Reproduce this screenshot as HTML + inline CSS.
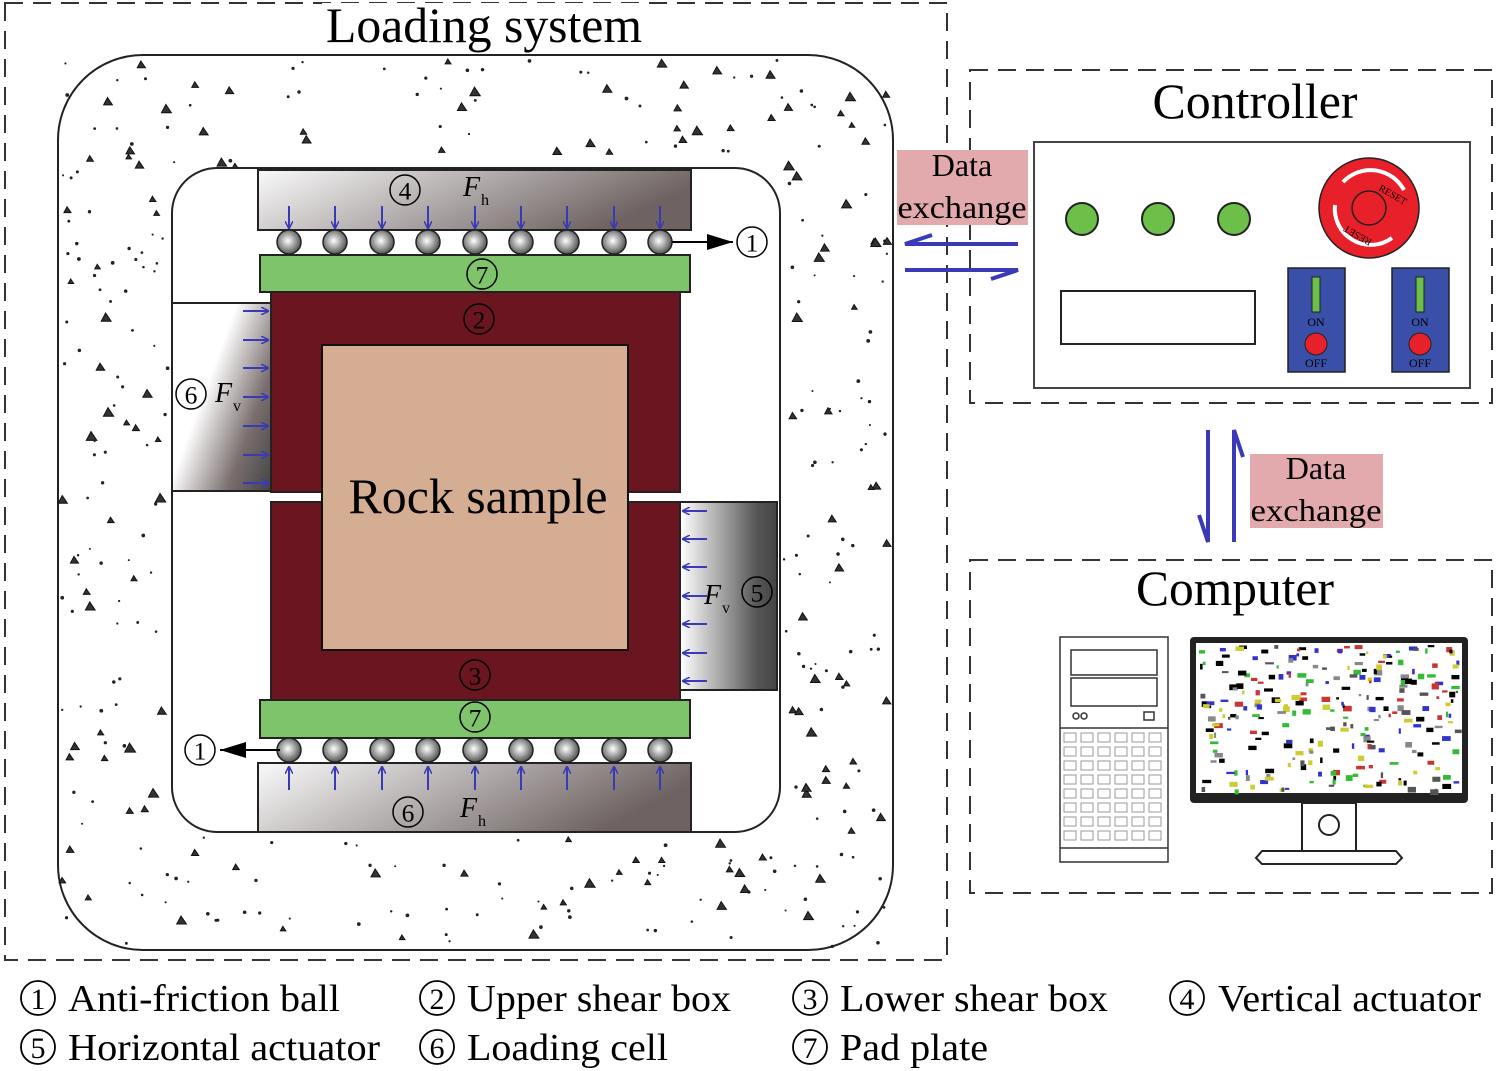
<!DOCTYPE html>
<html><head><meta charset="utf-8"><style>html,body{margin:0;padding:0;background:#fff}svg{display:block}text{font-family:"Liberation Serif",serif}</style></head><body>
<svg id="s" width="1499" height="1071" viewBox="0 0 1499 1071" xmlns="http://www.w3.org/2000/svg">
<defs>
<linearGradient id="gTop" x1="0" y1="0" x2="1" y2="0.3"><stop offset="0" stop-color="#fafafa"/><stop offset="1" stop-color="#6e6262"/></linearGradient>
<linearGradient id="gL" x1="0" y1="0.3" x2="1" y2="1"><stop offset="0.3" stop-color="#fff"/><stop offset="0.7" stop-color="#7a6e6e"/><stop offset="1" stop-color="#444"/></linearGradient>
<linearGradient id="gR" x1="0" y1="0" x2="1" y2="0"><stop offset="0" stop-color="#fff"/><stop offset="0.8" stop-color="#555"/><stop offset="1" stop-color="#444"/></linearGradient>
<radialGradient id="gB" cx="0.45" cy="0.45" r="0.6"><stop offset="0" stop-color="#fff"/><stop offset="1" stop-color="#444"/></radialGradient>
<marker id="bl" markerWidth="8" markerHeight="8" refX="7" refY="4" orient="auto" markerUnits="userSpaceOnUse"><path d="M0,0 L8,4 L0,8" fill="none" stroke="#3a3ab8" stroke-width="1.5"/></marker>
<marker id="bk" markerWidth="26" markerHeight="16" refX="26" refY="8" orient="auto" markerUnits="userSpaceOnUse"><path d="M0,0 L26,8 L0,16 z" fill="#000"/></marker>
</defs>
<rect x="5" y="3" width="942" height="957" fill="none" stroke="#333" stroke-width="2" stroke-dasharray="18,10"/>
<rect x="58" y="55" width="835" height="895" rx="85" fill="#fff" stroke="#222" stroke-width="2"/>
<g id="dots"></g>
<rect x="172" y="168" width="608" height="664" rx="45" fill="#fff" stroke="#222" stroke-width="2"/>
<rect x="322" y="3" width="324" height="46" fill="#fff"/>
<text x="484" y="42" font-size="50" text-anchor="middle" textLength="316" lengthAdjust="spacingAndGlyphs">Loading system</text>
<rect x="258" y="170" width="433" height="60" fill="url(#gTop)" stroke="#222" stroke-width="2"/>
<g stroke="#3a3ab8" stroke-width="2" marker-end="url(#bl)" id="topArr"></g>
<text x="463" y="196" font-size="28" font-style="italic">F</text><text x="481" y="205" font-size="16">h</text>
<g id="balls1"></g>
<line x1="672" y1="242" x2="733" y2="242" stroke="#000" stroke-width="2" marker-end="url(#bk)"/>
<rect x="260" y="255" width="430" height="37" fill="#7dc46a" stroke="#222" stroke-width="2"/>
<rect x="271" y="292" width="409" height="200" fill="#6a1520" stroke="#222" stroke-width="2"/>
<rect x="271" y="502" width="409" height="198" fill="#6a1520" stroke="#222" stroke-width="2"/>
<rect x="322" y="345" width="306" height="305" fill="#d4ad92" stroke="#111" stroke-width="2"/>
<text x="478" y="513" font-size="50" text-anchor="middle" textLength="259" lengthAdjust="spacingAndGlyphs">Rock sample</text>
<rect x="172" y="303" width="99" height="188" fill="url(#gL)" stroke="#222" stroke-width="2"/>
<g stroke="#3a3ab8" stroke-width="2" marker-end="url(#bl)" id="lArr"></g>
<text x="215" y="402" font-size="28" font-style="italic">F</text><text x="233" y="411" font-size="16">v</text>
<rect x="680" y="502" width="97" height="188" fill="url(#gR)" stroke="#222" stroke-width="2"/>
<g stroke="#3a3ab8" stroke-width="2" marker-end="url(#bl)" id="rArr"></g>
<text x="704" y="604" font-size="28" font-style="italic">F</text><text x="722" y="613" font-size="16">v</text>
<rect x="260" y="700" width="430" height="38" fill="#7dc46a" stroke="#222" stroke-width="2"/>
<g id="balls2"></g>
<line x1="280" y1="750" x2="220" y2="750" stroke="#000" stroke-width="2" marker-end="url(#bk)"/>
<rect x="258" y="763" width="433" height="69" fill="url(#gTop)" stroke="#222" stroke-width="2"/>
<g stroke="#3a3ab8" stroke-width="2" marker-end="url(#bl)" id="botArr"></g>
<text x="460" y="817" font-size="28" font-style="italic">F</text><text x="478" y="826" font-size="16">h</text>
<g id="circ"></g>
<!-- Controller -->
<rect x="970" y="70" width="522" height="333" fill="none" stroke="#333" stroke-width="2" stroke-dasharray="18,10"/>
<text x="1255" y="118" font-size="50" text-anchor="middle" textLength="205" lengthAdjust="spacingAndGlyphs">Controller</text>
<rect x="1034" y="142" width="436" height="246" fill="#fff" stroke="#444" stroke-width="2"/>
<circle cx="1082" cy="219" r="16" fill="#6cc04a" stroke="#222" stroke-width="2"/>
<circle cx="1158" cy="219" r="16" fill="#6cc04a" stroke="#222" stroke-width="2"/>
<circle cx="1234" cy="219" r="16" fill="#6cc04a" stroke="#222" stroke-width="2"/>
<circle cx="1369" cy="208" r="50" fill="#e8202a" stroke="#222" stroke-width="1.5"/>
<path d="M1343,182 A38,38 0 0 1 1404,190" fill="none" stroke="#fff" stroke-width="4"/>
<path d="M1335,205 A36,36 0 0 0 1392,238" fill="none" stroke="#fff" stroke-width="4"/>
<circle cx="1369" cy="208" r="17" fill="#e8202a" stroke="#222" stroke-width="1.5"/>
<text x="1378" y="190" font-size="10" transform="rotate(30 1378 190)">RESET</text>
<text x="1346" y="225" font-size="10" transform="rotate(210 1346 225)" text-anchor="end">RESET</text>
<rect x="1061" y="291" width="194" height="53" fill="#fff" stroke="#222" stroke-width="2"/>
<g id="sw"></g>
<rect x="897" y="150" width="131" height="75" fill="#e3aaae"/>
<text x="962" y="176" font-size="32" text-anchor="middle">Data</text>
<text x="962" y="218" font-size="32" text-anchor="middle" textLength="129" lengthAdjust="spacingAndGlyphs">exchange</text>
<path d="M1018,244 L905,244 L932,235" fill="none" stroke="#3a3ab8" stroke-width="4"/>
<path d="M905,270 L1018,270 L991,279" fill="none" stroke="#3a3ab8" stroke-width="4"/>
<path d="M1208,430 L1208,542 L1199,515" fill="none" stroke="#3a3ab8" stroke-width="4"/>
<path d="M1234,542 L1234,430 L1243,457" fill="none" stroke="#3a3ab8" stroke-width="4"/>
<rect x="1250" y="454" width="133" height="74" fill="#e3aaae"/>
<text x="1316" y="479" font-size="32" text-anchor="middle">Data</text>
<text x="1316" y="521" font-size="32" text-anchor="middle" textLength="131" lengthAdjust="spacingAndGlyphs">exchange</text>
<rect x="970" y="560" width="522" height="333" fill="none" stroke="#333" stroke-width="2" stroke-dasharray="18,10"/>
<rect x="1125" y="565" width="220" height="50" fill="#fff"/>
<text x="1235" y="605" font-size="50" text-anchor="middle" textLength="198" lengthAdjust="spacingAndGlyphs">Computer</text>
<g fill="none" stroke="#333" stroke-width="1.5">
<rect x="1060" y="637" width="108" height="225"/>
<rect x="1071" y="650" width="86" height="25"/>
<rect x="1071" y="678" width="86" height="28"/>
<line x1="1060" y1="728" x2="1168" y2="728"/>
<line x1="1060" y1="848" x2="1168" y2="848"/>
<circle cx="1076" cy="716" r="3"/><circle cx="1084" cy="716" r="3"/>
<rect x="1144" y="712" width="10" height="8"/>
</g>
<g id="grill" fill="none" stroke="#999" stroke-width="1"></g>
<rect x="1190" y="637" width="278" height="166" rx="4" fill="#222"/>
<rect x="1196" y="643" width="266" height="150" fill="#fff"/>
<g id="scr"></g>
<g fill="#fff" stroke="#222" stroke-width="2">
<rect x="1302" y="803" width="54" height="48"/>
<circle cx="1329" cy="825" r="10"/>
<path d="M1262,851 L1396,851 L1402,858 L1396,864 L1262,864 L1256,858 z"/>
</g>
<g id="leg" font-size="38"></g>
<script>
var NS="http://www.w3.org/2000/svg";
function el(p,t,a,txt){var e=document.createElementNS(NS,t);for(var k in a)e.setAttribute(k,a[k]);if(txt)e.textContent=txt;document.getElementById(p).appendChild(e);return e;}
function circ(x,y,r,d){el("circ","circle",{cx:x,cy:y,r:r,fill:"none",stroke:"#000","stroke-width":1.5});el("circ","text",{x:x,y:y+r*0.62,"font-size":r*1.7,"text-anchor":"middle"},d);}
var xs=[289,335,382,428,475,521,567,614,660];
xs.forEach(function(x){
 el("topArr","line",{x1:x,y1:206,x2:x,y2:228});
 el("botArr","line",{x1:x,y1:790,x2:x,y2:767});
 el("balls1","circle",{cx:x,cy:242,r:12,fill:"url(#gB)",stroke:"#222","stroke-width":1.5});
 el("balls2","circle",{cx:x,cy:750,r:12,fill:"url(#gB)",stroke:"#222","stroke-width":1.5});
});
[311,340,368,397,426,455,483].forEach(function(y){el("lArr","line",{x1:243,y1:y,x2:268,y2:y});});
[511,539,567,596,624,653,681].forEach(function(y){el("rArr","line",{x1:707,y1:y,x2:683,y2:y});});
circ(405,190,15,"4");circ(752,242,15,"1");circ(482,274,15,"7");circ(479,319,15,"2");
circ(475,675,15,"3");circ(191,394,15,"6");circ(757,592,15,"5");circ(475,717,15,"7");
circ(200,750,15,"1");circ(408,812,15,"6");
[1288,1392].forEach(function(x){
 el("sw","rect",{x:x,y:268,width:57,height:104,fill:"#3a4fa8",stroke:"#222","stroke-width":1.5});
 el("sw","rect",{x:x+24,y:277,width:8,height:35,fill:"#6cc04a",stroke:"#222"});
 el("sw","text",{x:x+28,y:326,"font-size":12,"text-anchor":"middle"},"ON");
 el("sw","circle",{cx:x+28,cy:344,r:11,fill:"#e8202a",stroke:"#222"});
 el("sw","text",{x:x+28,y:367,"font-size":12,"text-anchor":"middle"},"OFF");
});
var L=[[38,998,"1","Anti-friction ball",68,340],[437,998,"2","Upper shear box",467,731],[810,998,"3","Lower shear box",840,1108],[1187,998,"4","Vertical actuator",1218,1481],
[38,1047,"5","Horizontal actuator",68,380],[437,1047,"6","Loading cell",467,668],[810,1047,"7","Pad plate",840,988]];
L.forEach(function(l){
 el("leg","circle",{cx:l[0],cy:l[1],r:17,fill:"none",stroke:"#000","stroke-width":1.8});
 el("leg","text",{x:l[0],y:l[1]+11,"font-size":30,"text-anchor":"middle"},l[2]);
 el("leg","text",{x:l[4],y:l[1]+13,textLength:l[5]-l[4],lengthAdjust:"spacingAndGlyphs"},l[3]);
});
for(var r=0;r<8;r++)for(var c=0;c<6;c++)el("grill","rect",{x:1064+c*17,y:733+r*14,width:12,height:9});
var seed=7;function rnd(){seed=(seed*16807)%2147483647;return seed/2147483647;}
for(var i=0;i<800;i++){
 var x=62+rnd()*828,y=58+rnd()*890;
 if(x>168&&x<784&&y>164&&y<836)continue;
 if(rnd()<0.35){var s=3+rnd()*3;el("dots","path",{d:"M"+x+","+y+" l"+s+","+s*1.5+" l"+(-s*1.8)+",0 z",fill:"#333",stroke:"#111","stroke-width":1});}
 else el("dots","circle",{cx:x,cy:y,r:1+rnd()*0.9,fill:"#222"});
}
var cols=["#000","#000","#555","#3b3","#c33","#cc3","#33c","#888"];
for(var i=0;i<260;i++){var x=1198+rnd()*260,y=645+rnd()*145;el("scr","rect",{x:x,y:y,width:2+rnd()*7,height:2+rnd()*4,fill:cols[Math.floor(rnd()*8)]});}
</script>
</svg>
</body></html>
